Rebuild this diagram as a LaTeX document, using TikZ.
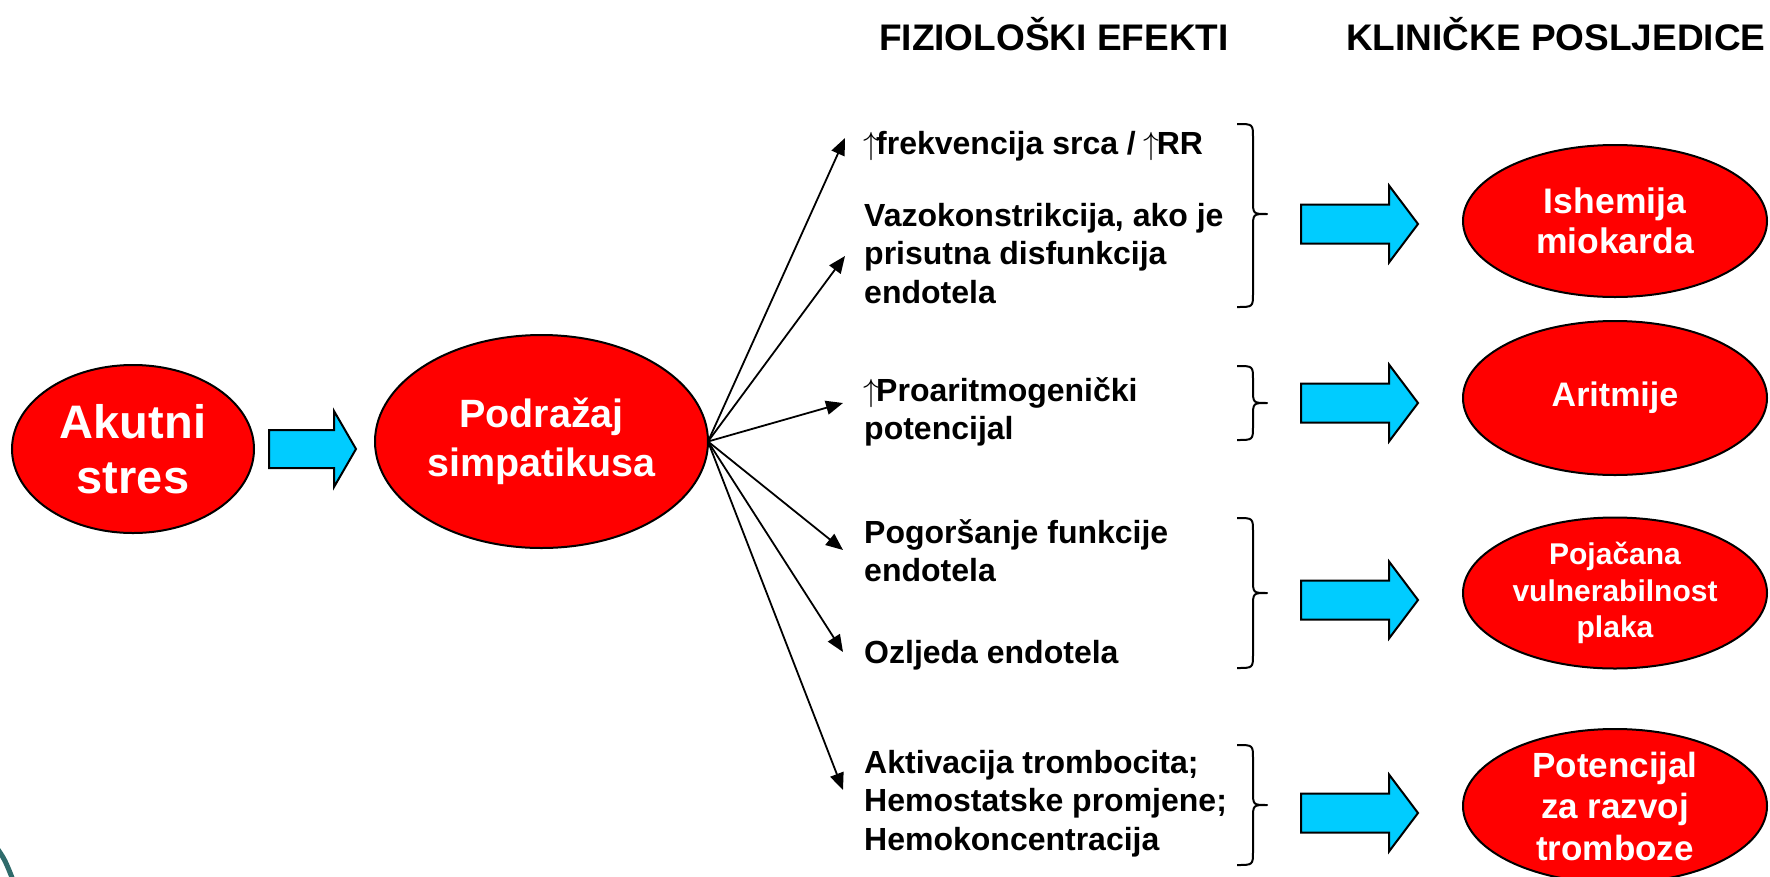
\documentclass[tikz,border=0pt]{standalone}
\usepackage{fontspec}
\usepackage{graphicx}
\setmainfont{Liberation Sans}
\usetikzlibrary{shapes.geometric,arrows.meta}
\definecolor{cyanb}{HTML}{00CCFF}
\definecolor{tealc}{HTML}{2F6B6B}
\newcommand\fz[2]{\fontsize{#1}{#2}\selectfont}
\newcommand\bluearrow[6]{\draw[blockarrow] (#1,{#4-#5}) -- (#2,{#4-#5}) -- (#2,{#4-#6}) -- (#3,#4) -- (#2,{#4+#6}) -- (#2,{#4+#5}) -- (#1,{#4+#5}) -- cycle;}
\newcommand\mybrace[3]{\draw[bracestyle] (1237,#1) .. controls (1253,#1) .. (1253,{#1+14}) -- (1253,{#2-14}) .. controls (1253,#2) .. (1267,#2) .. controls (1253,#2) .. (1253,{#2+14}) -- (1253,{#3-14}) .. controls (1253,#3) .. (1237,#3);}
\newcommand\up{\kern-1pt\scalebox{3.2}{\fontsize{10}{12}\selectfont$\uparrow$}\kern-3pt}
\begin{document}
\begin{tikzpicture}[x=1pt,y=-1pt,
  redell/.style={ellipse, draw=black, line width=2pt, fill=red, text=white, align=center, inner sep=-10pt, outer sep=0pt},
  effect/.style={anchor=base west, inner sep=0pt, font=\bfseries\fz{32}{38.5}},
  header/.style={anchor=base west, inner sep=0pt, font=\bfseries\fz{37}{44}},
  link/.style={line width=1.8pt, -{Triangle[length=17pt,width=14pt]}},
  bracestyle/.style={line width=2pt, line join=round},
  blockarrow/.style={fill=cyanb, draw=black, line width=2pt, line join=miter}
]
\useasboundingbox (0,0) rectangle (1770,876);
\clip (0,0) rectangle (1770,876);

% teal decoration
\draw[tealc, line width=5pt] (-3,848) .. controls (5,860) .. (13,880);

% headers
\node[header] (h1) at (879,50) {FIZIOLOŠKI EFEKTI};
\node[header] (h2) at (1346,50) {KLINIČKE POSLJEDICE};

% left ellipses
\node[redell, minimum width=242pt, minimum height=168pt, font=\bfseries\fz{47}{55}] (ak) at (133,449) {Akutni\\stres};
\node[redell, minimum width=333pt, minimum height=213pt, font=\bfseries\fz{39.5}{49}] (pod) at (541.5,441.5) {Podražaj\\simpatikusa};
\bluearrow{269}{334}{356}{449}{19}{38}

% effects
\node[effect] (e1) at (864,154) {\up frekvencija srca / \up RR};
\node[effect] (e2) at (864,226) {\vtop{\hbox{Vazokonstrikcija, ako je}\hbox{prisutna disfunkcija}\hbox{endotela}}};
\node[effect] (e3) at (864,401) {\vtop{\hbox{\up Proaritmogenički}\hbox{potencijal}}};
\node[effect] (e4) at (864,543) {\vtop{\hbox{Pogoršanje funkcije}\hbox{endotela}}};
\node[effect] (e5) at (864,663) {Ozljeda endotela};
\node[effect] (e6) at (864,773) {\vtop{\hbox{Aktivacija trombocita;}\hbox{Hemostatske promjene;}\hbox{Hemokoncentracija}}};

% arrow tips
\coordinate (t1) at (845,138);
\coordinate (t2) at (845,256);
\coordinate (t3) at (843,403);
\coordinate (t4) at (843,550);
\coordinate (t5) at (843,652);
\coordinate (t6) at (843,790);
\foreach \t in {t1,t2,t3,t4,t5,t6} \draw[link] (pod.east) -- (\t);

% braces
\mybrace{124}{214}{307}
\mybrace{366}{403}{440}
\mybrace{518}{593}{668}
\mybrace{745}{805}{865}

% block arrows
\bluearrow{1301}{1389}{1418}{224}{19.5}{38.5}
\bluearrow{1301}{1389}{1418}{403}{19.5}{38.5}
\bluearrow{1301}{1389}{1418}{600}{19.5}{38.5}
\bluearrow{1301}{1389}{1418}{813}{19.5}{38.5}

% consequences
\node[redell, minimum width=304pt, minimum height=152pt, font=\bfseries\fz{35.5}{39.5}] (ish) at (1615,221) {Ishemija\\miokarda};
\node[redell, minimum width=304pt, minimum height=154pt, font=\bfseries\fz{34}{40}] (ari) at (1615,398) {Aritmije};
\node[redell, minimum width=304pt, minimum height=151pt, font=\bfseries\fz{30}{36.5}] (poj) at (1615,593) {Pojačana\\vulnerabilnost\\plaka};
\node[redell, minimum width=304pt, minimum height=154pt, font=\bfseries\fz{35}{41.5}] (pot) at (1615,806) {Potencijal\\za razvoj\\tromboze};
\end{tikzpicture}
\end{document}
